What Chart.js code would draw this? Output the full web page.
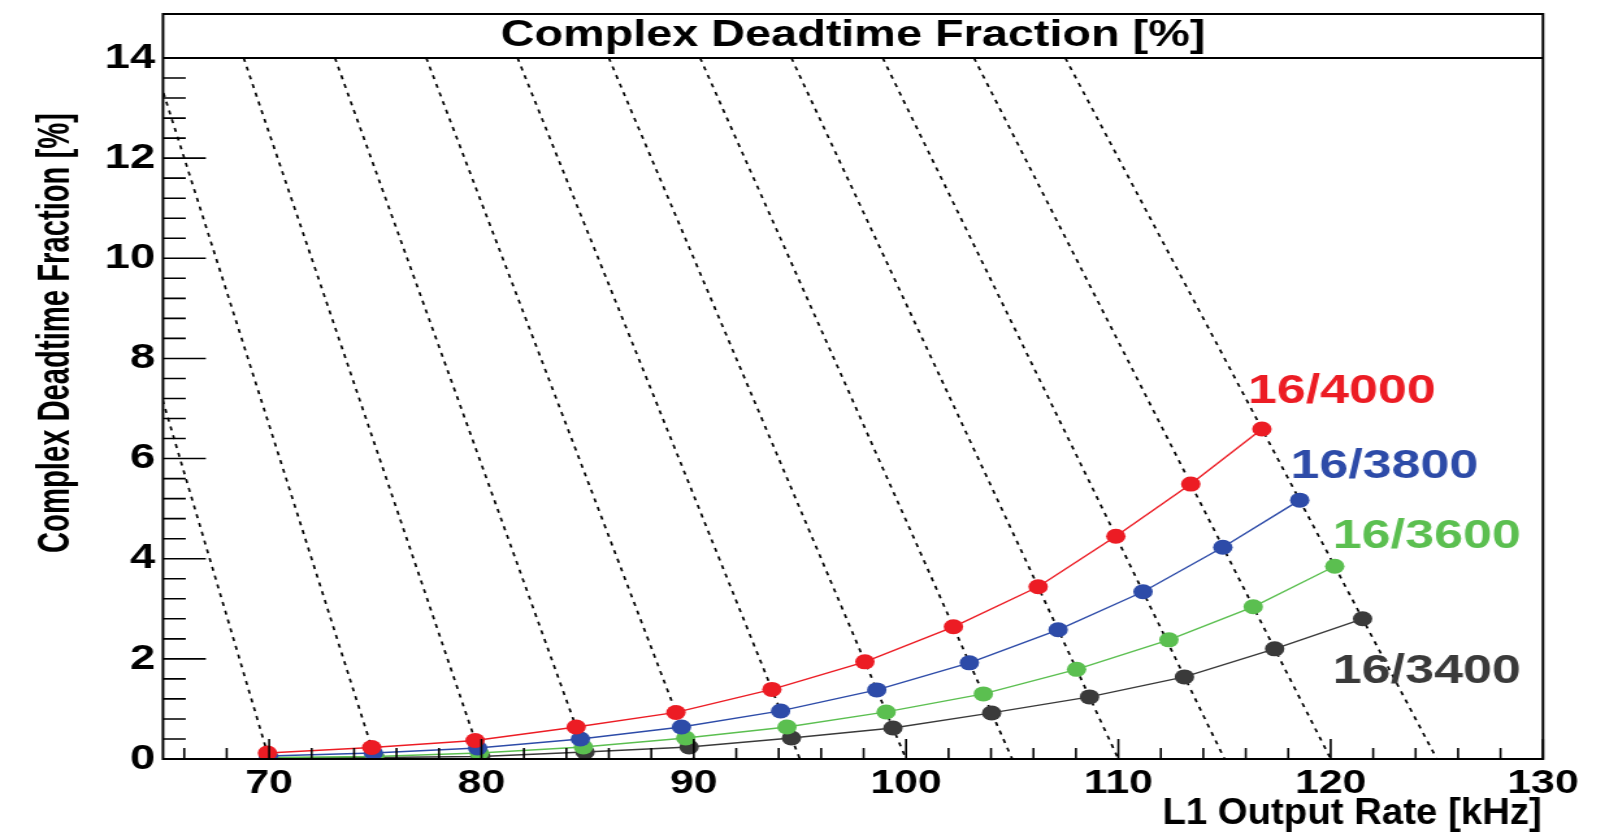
<!DOCTYPE html>
<html>
<head>
<meta charset="utf-8">
<title>Complex Deadtime Fraction</title>
<script src="https://cdn.jsdelivr.net/npm/chart.js@4.4.1/dist/chart.umd.min.js"></script>
<style>
  html, body { margin: 0; padding: 0; background: #fff; overflow: hidden; }
  #deadtimeChart { display: block; }
</style>
</head>
<body>
<!-- the original picture is stretched sideways, so the canvas is too -->
<canvas id="deadtimeChart" width="1245" height="835" style="width:1618px;height:835px"></canvas>
<script>
// input rates of the scan [kHz]
const inputRates = [70, 75, 80, 85, 90, 95, 100, 105, 110, 115, 120, 125];
const seriesNames = ["16/4000", "16/3800", "16/3600", "16/3400"];

// L1 output rate [kHz] and complex deadtime fraction [%]
const out4000 = [69.92, 74.83, 79.70, 84.46, 89.16, 93.68, 98.06, 102.23, 106.22, 109.88, 113.41, 116.76];
const dt4000 = [0.12, 0.23, 0.37, 0.64, 0.93, 1.39, 1.94, 2.64, 3.44, 4.45, 5.49, 6.59];

const out3800 = [69.96, 74.91, 79.82, 84.66, 89.42, 94.09, 98.62, 102.98, 107.16, 111.16, 114.92, 118.54];
const dt3800 = [0.06, 0.12, 0.22, 0.40, 0.64, 0.96, 1.38, 1.92, 2.58, 3.34, 4.23, 5.17];

const out3600 = [69.98, 74.96, 79.90, 84.80, 89.62, 94.39, 99.06, 103.64, 108.03, 112.38, 116.35, 120.19];
const dt3600 = [0.03, 0.05, 0.12, 0.24, 0.42, 0.64, 0.94, 1.30, 1.79, 2.38, 3.04, 3.85];

const out3400 = [69.99, 74.98, 79.96, 84.88, 89.78, 94.60, 99.38, 104.03, 108.64, 113.11, 117.36, 121.50];
const dt3400 = [0.02, 0.03, 0.05, 0.14, 0.24, 0.42, 0.62, 0.92, 1.24, 1.64, 2.20, 2.80];

// dashed lines of constant input rate: output rate at 14 % and at 0 %
const isoTopRate = [60.2, 64.5, 68.8, 73.1, 77.4, 81.7, 86.0, 90.3, 94.6, 98.9, 103.2, 107.5];
const isoBottomRate = [70, 75, 80, 85, 90, 95, 100, 105, 110, 115, 120, 125];
const isoTopDeadtime = 14;

const xTicks = [70, 80, 90, 100, 110, 120, 130];
const yTicks = [0, 2, 4, 6, 8, 10, 12, 14];

const FONT = '"Liberation Sans", Arial, Helvetica, sans-serif';
const SX = 1618 / 1245;            // sideways stretch
const FRAME_TOP = 14;
const NARROW = 0.82;               // axis titles use a narrower face

const toPoints = (xs, ys) => xs.map((v, i) => ({ x: v, y: ys[i] }));

function seriesSet(name, xs, ys, color) {
    return {
        label: name,
        data: toPoints(xs, ys),
        showLine: true,
        borderColor: color,
        backgroundColor: color,
        borderWidth: 1.4,
        pointRadius: 7.5,
        pointHoverRadius: 7.5,
        pointBorderWidth: 0,
        pointBackgroundColor: color,
    };
}

const datasets = [
    seriesSet(seriesNames[0], out4000, dt4000, "#ec1c24"),
    seriesSet(seriesNames[1], out3800, dt3800, "#2d4ba8"),
    seriesSet(seriesNames[2], out3600, dt3600, "#5bbf50"),
    seriesSet(seriesNames[3], out3400, dt3400, "#3a3a3a"),
];

isoBottomRate.forEach((r, i) => {
    datasets.push({
        label: "input " + r + " kHz",
        data: [{ x: isoTopRate[i], y: isoTopDeadtime }, { x: r, y: 0 }],
        showLine: true,
        borderColor: "#000",
        borderWidth: 1.7,
        borderDash: [4, 5],
        pointRadius: 0,
    });
});

// where the setting names sit (left edge / baseline, in axis units)
const nameSpots = [
    { x: 116.1, y: 7.11, color: "#ec1c24" },
    { x: 118.1, y: 5.61, color: "#2d4ba8" },
    { x: 120.1, y: 4.22, color: "#5bbf50" },
    { x: 120.1, y: 1.52, color: "#3a3a3a" },
];

// ROOT style frame, inward ticks and texts
const rootFrame = {
    id: "rootFrame",
    afterDraw(chart) {
        const { ctx, chartArea: a } = chart;
        const xs = chart.scales.x;
        const ys = chart.scales.y;
        ctx.save();
        ctx.strokeStyle = "#000";
        ctx.fillStyle = "#000";

        // ticks
        ctx.lineWidth = 1.6;
        ctx.beginPath();
        for (let k = 0; k <= 35; k++) {
            const py = ys.getPixelForValue(k * 0.4);
            const len = k % 5 === 0 ? 33 : 17.5;
            ctx.moveTo(a.left, py);
            ctx.lineTo(a.left + len, py);
        }
        for (let v = 66; v <= 130; v += 2) {
            const px = xs.getPixelForValue(v);
            const len = v % 10 === 0 ? 20 : 11;
            ctx.moveTo(px, a.bottom);
            ctx.lineTo(px, a.bottom - len);
        }
        ctx.stroke();

        // frame with title box
        ctx.lineWidth = 2;
        ctx.strokeRect(a.left, FRAME_TOP, a.right - a.left, a.bottom - FRAME_TOP);
        ctx.beginPath();
        ctx.moveTo(a.left, a.top);
        ctx.lineTo(a.right, a.top);
        ctx.stroke();

        // title
        ctx.font = "bold 36px " + FONT;
        ctx.textAlign = "center";
        ctx.textBaseline = "alphabetic";
        ctx.fillText("Complex Deadtime Fraction [%]", (a.left + a.right) / 2, 46);

        // x axis title
        ctx.save();
        ctx.translate(a.right - 1, 824);
        ctx.scale(NARROW, 1);
        ctx.font = "bold 36px " + FONT;
        ctx.textAlign = "right";
        ctx.fillText("L1 Output Rate [kHz]", 0, 0);
        ctx.restore();

        // y axis title
        ctx.save();
        ctx.translate(69 / SX, 333);
        ctx.rotate(-Math.PI / 2);
        ctx.scale(0.835, 1);
        ctx.textAlign = "center";
        ctx.font = "bold 35px " + FONT;
        ctx.fillText("Complex Deadtime Fraction [%]", 0, 0);
        ctx.restore();

        // setting names
        ctx.font = "bold 40px " + FONT;
        ctx.textAlign = "left";
        nameSpots.forEach((s, i) => {
            ctx.fillStyle = s.color;
            ctx.fillText(seriesNames[i], xs.getPixelForValue(s.x), ys.getPixelForValue(s.y));
        });
        ctx.restore();
    },
};

const ctx = document.getElementById("deadtimeChart").getContext("2d");

new Chart(ctx, {
    type: "scatter",
    data: { datasets: datasets },
    options: {
        responsive: false,
        devicePixelRatio: 1,
        animation: false,
        events: [],
        layout: {
            padding: { top: 58, right: 1245 - 1543 / SX, bottom: 0, left: 0 },
        },
        plugins: {
            legend: { display: false },
            title: { display: false },
            tooltip: { enabled: false },
        },
        scales: {
            x: {
                type: "linear",
                min: 65,
                max: 130,
                afterBuildTicks: (s) => { s.ticks = xTicks.map((v) => ({ value: v })); },
                afterFit: (s) => { s.height = 835 - 759; },
                grid: { display: false, drawTicks: false },
                border: { display: false },
                ticks: {
                    padding: 5,
                    color: "#000",
                    font: { family: FONT, size: 33, weight: "bold" },
                    maxRotation: 0,
                    autoSkip: false,
                },
            },
            y: {
                type: "linear",
                min: 0,
                max: 14,
                afterBuildTicks: (s) => { s.ticks = yTicks.map((v) => ({ value: v })); },
                afterFit: (s) => { s.width = 163 / SX; },
                grid: { display: false, drawTicks: false },
                border: { display: false },
                ticks: {
                    padding: 6,
                    color: "#000",
                    font: { family: FONT, size: 35, weight: "bold" },
                },
            },
        },
    },
    plugins: [rootFrame],
});
</script>
</body>
</html>
